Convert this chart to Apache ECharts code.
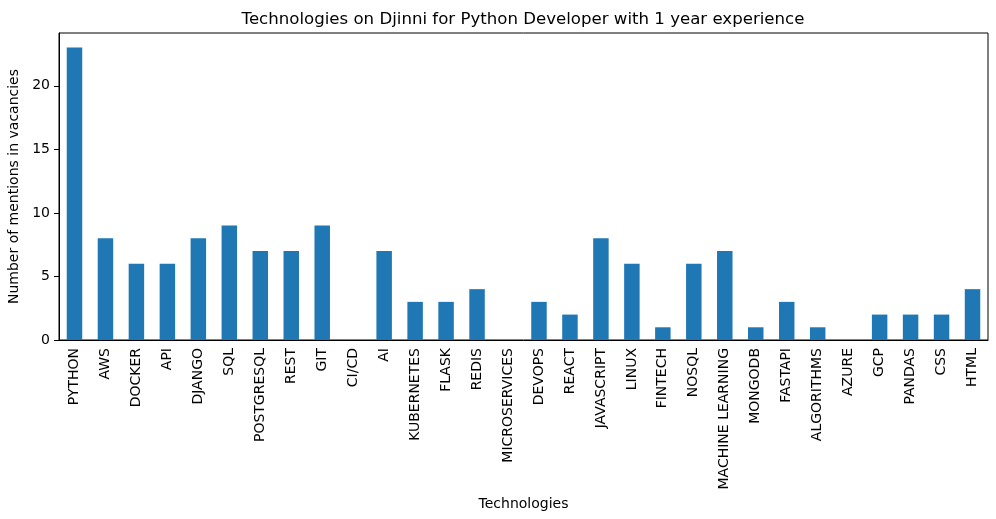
<!DOCTYPE html>
<html>
<head>
<meta charset="utf-8">
<script src="https://cdn.jsdelivr.net/npm/echarts@6/dist/echarts.min.js"></script>
<style>
  html, body { margin: 0; padding: 0; background: #fff; }
  #chart { width: 996px; height: 519px; }
</style>
</head>
<body>
<div id="chart"></div>
<script>
const technologies = ['PYTHON', 'AWS', 'DOCKER', 'API', 'DJANGO', 'SQL', 'POSTGRESQL', 'REST', 'GIT', 'CI/CD',
  'AI', 'KUBERNETES', 'FLASK', 'REDIS', 'MICROSERVICES', 'DEVOPS', 'REACT', 'JAVASCRIPT', 'LINUX', 'FINTECH',
  'NOSQL', 'MACHINE LEARNING', 'MONGODB', 'FASTAPI', 'ALGORITHMS', 'AZURE', 'GCP', 'PANDAS', 'CSS', 'HTML']
const mentions = [23, 8, 6, 6, 8, 9, 7, 7, 9, 0,
  7, 3, 3, 4, 0, 3, 2, 8, 6, 1,
  6, 7, 1, 3, 1, 0, 2, 2, 2, 4]
const yTicks = [0, 5, 10, 15, 20]

const font = 'DejaVu Sans'
const chart = echarts.init(document.getElementById('chart'))

const option = {
  animation: false,
  textStyle: { fontFamily: font, color: '#000' },
  title: {
    text: 'Technologies on Djinni for Python Developer with 1 year experience',
    left: 518,
    textAlign: 'center',
    top: 6,
    textStyle: { fontFamily: font, fontSize: 16.6, fontWeight: 'normal', color: '#000' }
  },
  grid: {
    left: 59, right: 8, top: 33, bottom: 179,
    outerBoundsMode: 'none',
    show: true, borderColor: '#000', borderWidth: 1
  },
  xAxis: {
    type: 'category',
    data: technologies,
    name: 'Technologies',
    nameLocation: 'middle',
    nameGap: 154,
    nameTextStyle: { fontFamily: font, fontSize: 14, color: '#000' },
    axisLine: { lineStyle: { color: '#000' } },
    axisTick: { alignWithLabel: true, length: 5, lineStyle: { color: '#000' } },
    axisLabel: { rotate: 90, interval: 0, fontFamily: font, fontSize: 14, color: '#000', margin: 8 }
  },
  yAxis: {
    type: 'value',
    min: 0,
    max: 24.15,
    name: 'Number of mentions in vacancies',
    nameLocation: 'middle',
    nameGap: 35,
    nameTextStyle: { fontFamily: font, fontSize: 14, color: '#000' },
    splitLine: { show: false },
    axisLine: { show: true, lineStyle: { color: '#000' } },
    axisTick: { show: true, length: 5, customValues: yTicks, lineStyle: { color: '#000' } },
    axisLabel: { customValues: yTicks, fontFamily: font, fontSize: 14, color: '#000', margin: 9 }
  },
  series: [{
    type: 'bar',
    data: mentions,
    barWidth: '50%',
    itemStyle: { color: '#1f77b4' }
  }]
}

chart.setOption(option)
</script>
</body>
</html>
